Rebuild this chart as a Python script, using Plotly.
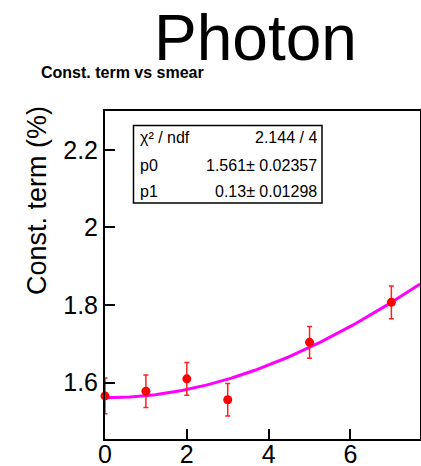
import numpy as np
import plotly.graph_objects as go

# ---- data ----
smear = [0, 1, 2, 3, 5, 7]
const_term = [1.566, 1.578, 1.610, 1.556, 1.704, 1.807]
const_err = [0.046, 0.042, 0.042, 0.042, 0.041, 0.042]
fit_p0 = 1.561
fit_p1 = 0.13
x_ticks = [0, 2, 4, 6]
y_ticks = [1.6, 1.8, 2.0, 2.2]
stat_labels = ["χ² / ndf", "p0", "p1"]
stat_values = ["2.144 / 4", "1.561± 0.02357", "0.13± 0.01298"]

# ---- geometry ----
W, H = 421, 466
L, R, T, B = 105, 1, 111, 27
PW, PH = W - L - R, H - T - B
FONT = "Liberation Sans, Arial, Helvetica, sans-serif"


def px(xp):
    return (xp - L) / PW


def py(yp):
    return (H - B - yp) / PH


x_range = [0, 7.7]
y_range = [1.455, 2.3]

fit_x = np.linspace(x_range[0], x_range[1], 300)
fit_y = np.sqrt(fit_p0 ** 2 + (fit_p1 * fit_x) ** 2)

fig = go.Figure()
fig.add_trace(go.Scatter(
    x=fit_x, y=fit_y, mode="lines",
    line=dict(color="#ff00ff", width=3), hoverinfo="skip", showlegend=False))
fig.add_trace(go.Scatter(
    x=smear, y=const_term, mode="markers",
    marker=dict(color="#ff0000", size=9),
    error_y=dict(type="data", array=const_err, color="#ff2020", thickness=1.5, width=2.5),
    cliponaxis=False, showlegend=False))

annotations = []
# Big title
annotations.append(dict(text="Photon", x=px(255), y=py(38), xref="paper", yref="paper",
                        xanchor="center", yanchor="middle", showarrow=False,
                        font=dict(family=FONT, size=64, color="black")))
# subtitle
annotations.append(dict(text="<b>Const. term vs smear</b>", x=px(39), y=py(73), xref="paper", yref="paper",
                        xanchor="left", yanchor="middle", showarrow=False,
                        font=dict(family=FONT, size=16, color="black")))
# y-axis title
annotations.append(dict(text="Const. term (%)", x=px(37), y=py(201), xref="paper", yref="paper",
                        xanchor="center", yanchor="middle", textangle=-90, showarrow=False,
                        font=dict(family=FONT, size=27, color="black")))
# stats box
row_centers = [137, 165, 191]
for lab, val, yc in zip(stat_labels, stat_values, row_centers):
    annotations.append(dict(text=lab, x=px(138), y=py(yc), xref="paper", yref="paper",
                            xanchor="left", yanchor="middle", showarrow=False,
                            font=dict(family=FONT, size=16, color="black")))
    annotations.append(dict(text=val, x=px(319), y=py(yc), xref="paper", yref="paper",
                            xanchor="right", yanchor="middle", showarrow=False,
                            font=dict(family=FONT, size=16, color="black")))

shapes = [dict(type="rect", xref="paper", yref="paper",
               x0=px(133.5), x1=px(322), y0=py(203), y1=py(125.5),
               line=dict(color="black", width=1.5), fillcolor="white", layer="above")]

axis_common = dict(showgrid=False, zeroline=False, automargin=False,
                   showline=True, linecolor="black", linewidth=2, mirror=True,
                   ticks="inside", ticklen=10, tickwidth=1.5, tickcolor="black",
                   tickfont=dict(family=FONT, size=25, color="black"))

fig.update_layout(
    width=W, height=H,
    margin=dict(l=L, r=R, t=T, b=B, pad=0, autoexpand=False),
    paper_bgcolor="white", plot_bgcolor="white",
    font=dict(family=FONT, color="black"),
    annotations=annotations, shapes=shapes,
    xaxis=dict(range=x_range, tickvals=x_ticks, ticklabelstandoff=-8, **axis_common),
    yaxis=dict(range=y_range, tickvals=y_ticks, **axis_common),
)

fig.write_html("out.html")
